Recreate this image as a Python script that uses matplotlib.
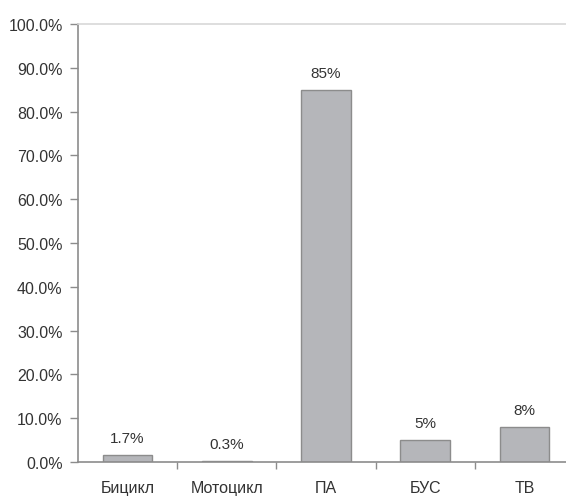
import numpy as np
import matplotlib.pyplot as plt
from matplotlib.ticker import FuncFormatter, FixedLocator

# share of vehicles by type, percent
categories = ['Бицикл', 'Мотоцикл', 'ПА', 'БУС', 'ТВ']
values = [1.7, 0.3, 85, 5, 8]
value_labels = ['1.7%', '0.3%', '85%', '5%', '8%']

plt.rcParams['font.family'] = ['Liberation Sans', 'DejaVu Sans']

fig = plt.figure(figsize=(5.66, 5.02), dpi=100)
# axes runs a little past the right edge of the figure
ax = fig.add_axes([78 / 566, 39 / 502, 496 / 566, 438 / 502])

x = np.arange(len(categories))
ax.bar(x, values, width=0.5, color='#b5b6ba', edgecolor='#8c8c8c', linewidth=1.0, zorder=2)

for xi, v, lab in zip(x, values, value_labels):
    ax.annotate(lab, (xi, v), xytext=(0, 7), textcoords='offset points',
                ha='center', va='bottom', fontsize=11, color='#333333')

ax.set_xlim(-0.5, len(categories) - 0.5)
ax.set_ylim(0, 100)

ax.set_yticks(np.arange(0, 101, 10))
ax.yaxis.set_major_formatter(FuncFormatter(lambda v, p: f'{v:.1f}%'))
ax.tick_params(axis='y', direction='out', length=6, width=1, color='#8c8c8c',
               labelsize=11.5, labelcolor='#333333', pad=5)

# labels under the categories, ticks on the boundaries between them
ax.set_xticks(x)
ax.set_xticklabels(categories)
ax.xaxis.set_minor_locator(FixedLocator(np.arange(0.5, len(categories), 1.0)))
ax.tick_params(axis='x', which='major', length=0, labelsize=11.5, labelcolor='#333333', pad=13)
ax.tick_params(axis='x', which='minor', direction='out', length=5, width=1, color='#8c8c8c')

ax.spines['left'].set_color('#8c8c8c')
ax.spines['bottom'].set_color('#8c8c8c')
ax.spines['top'].set_color('#d8d8d8')
ax.spines['right'].set_visible(False)
for s in ax.spines.values():
    s.set_linewidth(1.2)

fig.savefig('out.png', dpi=100)
